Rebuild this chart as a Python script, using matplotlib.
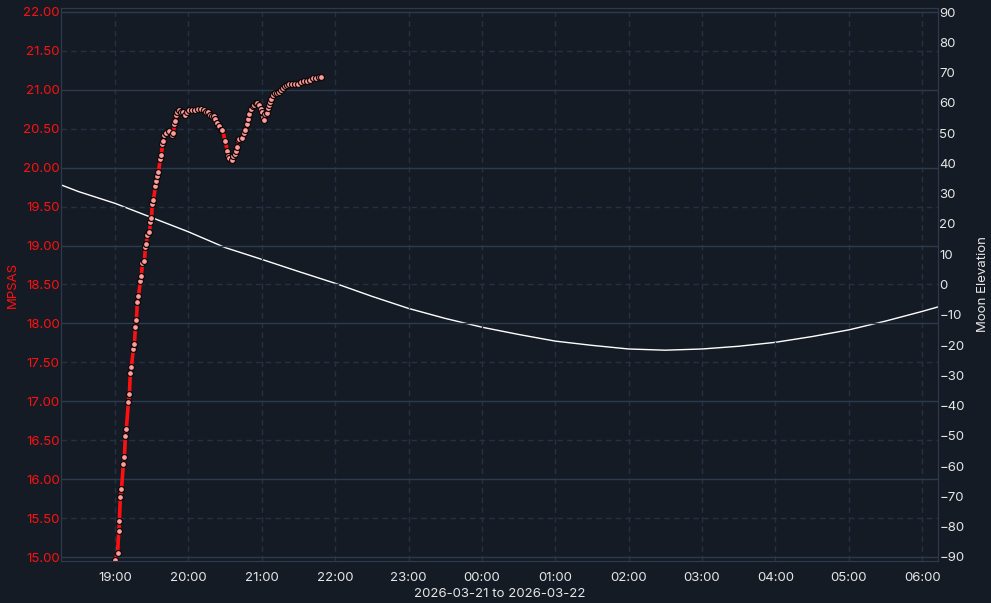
import datetime as dt
import matplotlib
matplotlib.use("Agg")
import matplotlib.pyplot as plt
import matplotlib.dates as mdates
from matplotlib.ticker import MultipleLocator, FormatStrFormatter

START = dt.datetime(2026, 3, 21, 19, 0)

# sky brightness readings: minutes after 19:00, MPSAS
sqm_minutes = [0, 2, 3, 3.5, 4.3, 5.2, 6.8, 7.6, 8.4, 9.2, 10.9, 11.7, 12.5, 13.3,
               15.0, 15.8, 16.6, 17.4, 18.2, 19.1, 20.7, 21.5, 22.3, 24.0, 24.8, 25.6,
               26.4, 28.1, 28.9, 29.7, 30.5, 31.3, 33.0, 33.8, 34.6, 35.4, 37.0, 37.9,
               38.7, 39.5, 40.3, 42.0, 44.4, 46.9, 47.7, 48.5, 49.3, 50.1, 51.0, 52.6,
               54.2, 55.9, 57.5, 59.1, 60.8, 63.2, 65.7, 68.1, 70.6, 73.0, 74.7, 76.3,
               77.9, 79.6, 81.2, 82.0, 83.7, 85.3, 86.9, 87.8, 90.2, 91.8, 92.7, 93.5,
               95.9, 96.8, 98.4, 99.2, 100.0, 100.8, 101.7, 104.1, 105.7, 106.5, 108.2,
               109.0, 109.8, 111.5, 113.1, 113.9, 115.6, 116.4, 118.0, 119.7, 120.5,
               121.3, 122.1, 122.9, 124.6, 125.4, 126.2, 127.0, 127.8, 129.5, 131.1,
               132.7, 134.4, 136.0, 137.6, 139.3, 140.9, 142.6, 145.0, 147.5, 149.9,
               152.4, 154.8, 157.3, 159.7, 162.2, 164.6, 167.1, 168.7]
sqm_values = [14.96, 15.05, 15.33, 15.46, 15.77, 15.87, 16.20, 16.28, 16.55, 16.64,
              16.99, 17.09, 17.37, 17.44, 17.67, 17.73, 17.96, 18.04, 18.27, 18.35,
              18.54, 18.61, 18.77, 18.80, 18.98, 19.02, 19.14, 19.17, 19.30, 19.35,
              19.53, 19.58, 19.76, 19.83, 19.89, 19.94, 20.11, 20.16, 20.30, 20.34,
              20.42, 20.44, 20.47, 20.42, 20.44, 20.56, 20.60, 20.67, 20.72, 20.74,
              20.71, 20.71, 20.67, 20.72, 20.74, 20.74, 20.74, 20.75, 20.75, 20.74,
              20.71, 20.71, 20.67, 20.66, 20.66, 20.63, 20.57, 20.53, 20.49, 20.48,
              20.34, 20.21, 20.15, 20.13, 20.10, 20.15, 20.17, 20.22, 20.26, 20.35,
              20.37, 20.38, 20.44, 20.48, 20.56, 20.62, 20.69, 20.75, 20.79, 20.81,
              20.83, 20.83, 20.80, 20.75, 20.71, 20.65, 20.61, 20.69, 20.70, 20.76,
              20.80, 20.84, 20.88, 20.93, 20.96, 20.96, 20.97, 21.00, 21.02, 21.05,
              21.06, 21.07, 21.07, 21.07, 21.08, 21.10, 21.11, 21.11, 21.12, 21.15,
              21.15, 21.16, 21.16]

# moon elevation: minutes after 19:00, degrees
moon_minutes = [-44.2, -30, 0, 30, 60, 90, 120, 150, 180, 210, 240, 270, 300, 330,
                360, 390, 420, 450, 480, 510, 540, 570, 600, 630, 660, 673.1]
moon_values = [32.9, 30.7, 26.8, 22.1, 17.4, 12.2, 8.3, 4.3, 0.4, -3.9, -7.9, -11.2,
               -14.1, -16.5, -18.7, -20.1, -21.3, -21.7, -21.3, -20.4, -19.1, -17.2,
               -15.0, -12.1, -8.9, -7.4]

BG = "#151b25"
GRID = "#2b3a4c"
GRID_DASH = "#233142"
RED = "#ff1010"
WHITE = "#e6e6e6"

plt.rcParams["font.family"] = ["Inter", "DejaVu Sans"]
plt.rcParams["font.size"] = 9.5

sqm_t = [START + dt.timedelta(minutes=m) for m in sqm_minutes]
moon_t = [START + dt.timedelta(minutes=m) for m in moon_minutes]

fig = plt.figure(figsize=(9.91, 6.03), dpi=100, facecolor=BG)
ax = fig.add_axes([0.0616, 0.0697, 0.885, 0.917])
ax2 = ax.twinx()
ax2.set_facecolor(BG)
ax.set_zorder(ax2.get_zorder() + 1)
ax.patch.set_visible(False)

ax2.plot(moon_t, moon_values, color="white", lw=1.0)
ax.plot(sqm_t, sqm_values, color=RED, lw=2.6, marker="o", ms=4.3,
        mfc="#ff9c9c", mec="#120808", mew=0.9)

ax.set_xlim(moon_t[0], moon_t[-1])
ax.set_ylim(14.95, 22.05)
ax2.set_ylim(-91.32, 91.32)

ax.xaxis.set_major_locator(mdates.HourLocator())
ax.xaxis.set_major_formatter(mdates.DateFormatter("%H:%M"))
ax.yaxis.set_major_locator(MultipleLocator(1.0))
ax.yaxis.set_minor_locator(MultipleLocator(0.5))
ax.yaxis.set_major_formatter(FormatStrFormatter("%.2f"))
ax.yaxis.set_minor_formatter(FormatStrFormatter("%.2f"))
ax2.yaxis.set_major_locator(MultipleLocator(10))

ax.grid(True, which="major", axis="y", color=GRID, lw=1.0, ls="-")
ax.grid(True, which="minor", axis="y", color=GRID_DASH, lw=1.0, ls=(0, (4, 3)))
ax.grid(True, which="major", axis="x", color=GRID_DASH, lw=1.0, ls=(0, (4, 3)))

ax.tick_params(axis="y", which="both", length=0, pad=1, colors=RED, labelsize=9.5)
ax.tick_params(axis="x", length=0, pad=8, colors=WHITE, labelsize=9.5)
ax2.tick_params(axis="y", length=0, pad=1, colors=WHITE, labelsize=9.5)

for a in (ax, ax2):
    for s in a.spines.values():
        s.set_color(GRID)

ax.set_ylabel("MPSAS", color=RED, fontsize=9.5)
ax.yaxis.set_label_coords(-0.048, 0.5)
ax2.set_ylabel("Moon Elevation", color=WHITE, fontsize=9.5)
ax2.yaxis.set_label_coords(1.044, 0.5)
ax.set_xlabel("2026-03-21 to 2026-03-22", color=WHITE, fontsize=9.5)
ax.xaxis.set_label_coords(0.5, -0.049)

fig.savefig("out.png", dpi=100, facecolor=BG)
